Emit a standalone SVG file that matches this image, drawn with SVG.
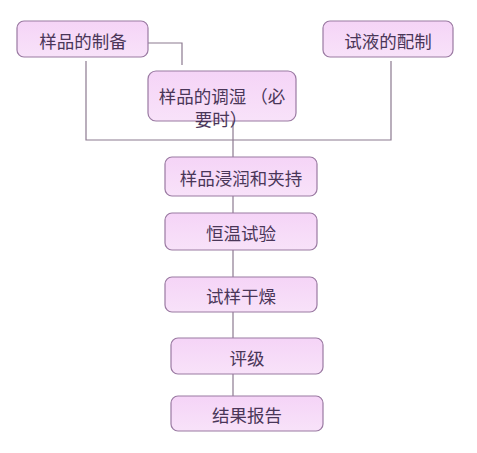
<svg xmlns="http://www.w3.org/2000/svg" width="477" height="453" viewBox="0 0 477 453">
<style>
.box{fill:url(#g);stroke:#9a7aa2;stroke-width:1.2}
.t{font-family:"Noto Sans CJK SC","Noto Sans",sans-serif;font-size:17.5px;fill:#4a3658;text-anchor:middle;dominant-baseline:central}
.c{fill:none;stroke:#8c7a90;stroke-width:1.2}
</style>
<defs>
<linearGradient id="g" x1="0" y1="0" x2="0" y2="1">
<stop offset="0" stop-color="#f5d4f7"/>
<stop offset="1" stop-color="#f8e2f9"/>
</linearGradient>
</defs>
<rect width="477" height="453" fill="#ffffff"/>
<g id="connectors">
<polyline class="c" points="148,43 182,43 182,65"/>
<polyline class="c" points="86,61 86,140 391,140 391,61"/>
<line class="c" x1="233" y1="121" x2="233" y2="157"/>
<line class="c" x1="233" y1="196" x2="233" y2="213"/>
<line class="c" x1="233" y1="250" x2="233" y2="277"/>
<line class="c" x1="233" y1="312" x2="233" y2="338"/>
<line class="c" x1="233" y1="374" x2="233" y2="396"/>
</g>
<g id="n1"><rect class="box" x="17" y="21" width="131" height="36" rx="7"/><text class="t" x="83" y="40">样品的制备</text></g>
<g id="n2"><rect class="box" x="323" y="21" width="130" height="36" rx="7"/><text class="t" x="388" y="40">试液的配制</text></g>
<g id="n3"><rect class="box" x="148" y="71" width="148" height="50" rx="8"/><text class="t" x="222" y="95">样品的调湿 （必</text><text class="t" x="221" y="118">要时）</text></g>
<g id="n4"><rect class="box" x="165" y="157" width="152" height="39" rx="7"/><text class="t" x="241" y="177">样品浸润和夹持</text></g>
<g id="n5"><rect class="box" x="165" y="213" width="152" height="37" rx="7"/><text class="t" x="241" y="232">恒温试验</text></g>
<g id="n6"><rect class="box" x="165" y="277" width="152" height="35" rx="7"/><text class="t" x="241" y="295">试样干燥</text></g>
<g id="n7"><rect class="box" x="171" y="338" width="152" height="36" rx="7"/><text class="t" x="247" y="357">评级</text></g>
<g id="n8"><rect class="box" x="171" y="396" width="152" height="35" rx="7"/><text class="t" x="247" y="414">结果报告</text></g>
</svg>
